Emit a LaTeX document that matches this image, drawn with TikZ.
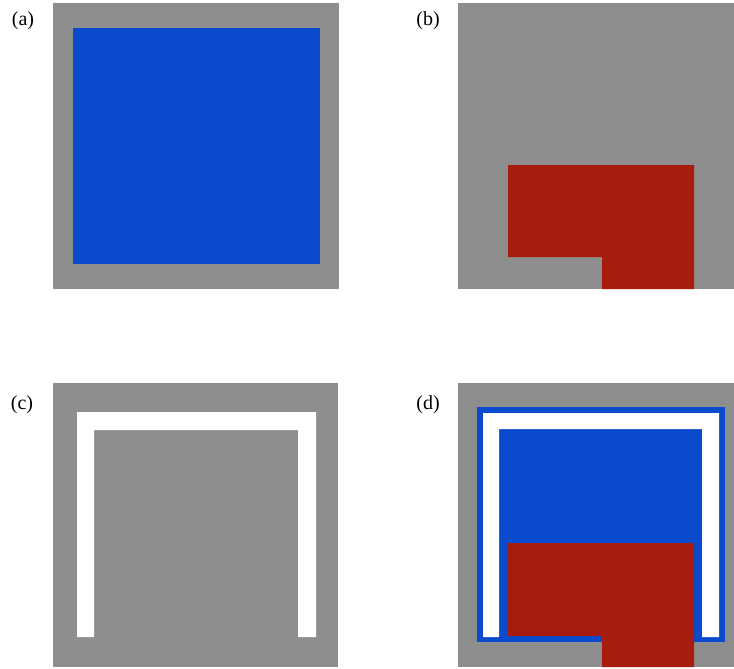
\documentclass[tikz,border=0pt]{standalone}
\usepackage{fontspec}
\setmainfont{Liberation Serif}

\definecolor{panelgray}{RGB}{142,142,142}
\definecolor{cellblue}{RGB}{10,74,204}
\definecolor{cellred}{RGB}{168,28,16}

\begin{document}
\begin{tikzpicture}[x=1pt, y=-1pt, every node/.style={font=\fontsize{20}{24}\selectfont}]
    \useasboundingbox (0,0) rectangle (734,669);
    \tikzset{
      panel/.style={fill=panelgray},
      bluepart/.style={fill=cellblue},
      redpart/.style={fill=cellred},
      whitepart/.style={fill=white}
    }

    % --- 1. panel corners ---
    \coordinate (A1) at (53, 3);   \coordinate (A2) at (339, 289);
    \coordinate (B1) at (458, 3);  \coordinate (B2) at (734, 289);
    \coordinate (C1) at (53, 383); \coordinate (C2) at (338, 667);
    \coordinate (D1) at (458, 383);\coordinate (D2) at (734, 667);

    % --- 2. gray backgrounds ---
    \fill[panel] (A1) rectangle (A2);
    \fill[panel] (B1) rectangle (B2);
    \fill[panel] (C1) rectangle (C2);
    \fill[panel] (D1) rectangle (D2);

    % --- 3. (a) blue square ---
    \fill[bluepart] (73, 28) rectangle (320, 264);

    % --- 4. (b) red block with notch ---
    \fill[redpart] (508, 165) -- (694, 165) -- (694, 289) -- (602, 289)
                -- (602, 257) -- (508, 257) -- cycle;

    % --- 5. (c) white frame ---
    \fill[whitepart] (77, 637) -- (77, 412) -- (316, 412) -- (316, 637)
                -- (298, 637) -- (298, 430) -- (94, 430) -- (94, 637) -- cycle;

    % --- 6. (d) everything together ---
    \fill[bluepart] (477, 407) rectangle (725, 642);
    \fill[whitepart] (483, 637) -- (483, 413) -- (719, 413) -- (719, 637)
                -- (702, 637) -- (702, 429) -- (499, 429) -- (499, 637) -- cycle;
    \fill[redpart] (508, 543) -- (694, 543) -- (694, 667) -- (602, 667)
                -- (602, 636) -- (508, 636) -- cycle;

    % --- 7. labels ---
    \node (la) at (23, 21)  {(a)};
    \node (lb) at (428, 21) {(b)};
    \node (lc) at (22, 405) {(c)};
    \node (ld) at (428, 405){(d)};

  \end{tikzpicture}
\end{document}
